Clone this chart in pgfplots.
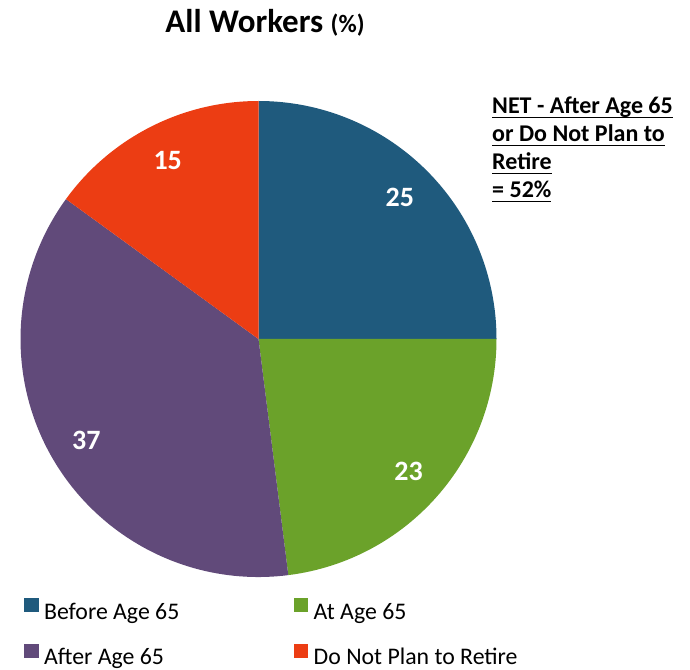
\documentclass[border=0pt]{standalone}
\usepackage{pgfplots}
\usepackage{pgfplotstable}
\pgfplotsset{compat=1.18}
\usepackage{fontspec}
\setmainfont{Carlito}
\definecolor{cBefore}{HTML}{1F5A7D}
\definecolor{cAt}{HTML}{6BA22A}
\definecolor{cAfter}{HTML}{614A7A}
\definecolor{cNot}{HTML}{EC3D13}
\newcommand\ul[1]{\setbox0\hbox{#1}\rlap{\rule[-4pt]{\wd0}{1.4pt}}\box0}

\pgfplotstableread[col sep=comma]{
label,value,color
Before Age 65,25,cBefore
At Age 65,23,cAt
After Age 65,37,cAfter
Do Not Plan to Retire,15,cNot
}\piedata

\begin{document}
\begin{tikzpicture}
\begin{axis}[
  x=1pt, y=1pt, xmin=0, xmax=690, ymin=-666, ymax=0,
  hide axis, clip=false,
  legend columns=2,
  legend cell align=left,
  legend style={
    at={(axis cs:24,-634)}, anchor=west,
    draw=none, fill=none, inner sep=0pt,
    font=\fontsize{23.8}{28}\selectfont,
    nodes={inner sep=0pt, text height=17pt, text depth=5pt},
    row sep=20pt,
    /tikz/every odd column/.append style={column sep=6pt},
    /tikz/every even column/.append style={column sep=114.5pt},
  },
]
\path (axis cs:0,0) rectangle (axis cs:690,-666);
\pgfplotstablegetrowsof{\piedata}
\pgfmathtruncatemacro\nrows{\pgfplotsretval-1}
\def\cum{0}
\pgfplotsforeachungrouped \i in {0,...,\nrows}{%
  \pgfplotstablegetelem{\i}{value}\of\piedata \let\v\pgfplotsretval
  \pgfplotstablegetelem{\i}{color}\of\piedata \let\c\pgfplotsretval
  \pgfmathsetmacro\sa{90-3.6*\cum}%
  \pgfmathsetmacro\ea{90-3.6*(\cum+\v)}%
  \pgfmathsetmacro\ma{(\sa+\ea)/2}%
  \pgfmathsetmacro\lx{258.5+200*cos(\ma)}%
  \pgfmathsetmacro\ly{-339+200*sin(\ma)}%
  \edef\cmd{%
    \noexpand\fill[\c] (axis cs:258.5,-339) -- ([shift={(\sa:238pt)}]axis cs:258.5,-339) arc[start angle=\sa, end angle=\ea, radius=238pt] -- cycle;
    \noexpand\node[text=white, font=\noexpand\bfseries\noexpand\fontsize{28}{32}\noexpand\selectfont] at (axis cs:\lx,\ly) {\v};
  }%
  \cmd
  \pgfmathsetmacro\cum{\cum+\v}%
}
\addlegendimage{legend image code/.code={\fill[cBefore] (0pt,1.5pt) rectangle (13.5pt,14.5pt);}}
\addlegendentry{Before Age 65}
\addlegendimage{legend image code/.code={\fill[cAt] (0pt,1.5pt) rectangle (13.5pt,14.5pt);}}
\addlegendentry{At Age 65}
\addlegendimage{legend image code/.code={\fill[cAfter] (0pt,1.5pt) rectangle (13.5pt,14.5pt);}}
\addlegendentry{After Age 65}
\addlegendimage{legend image code/.code={\fill[cNot] (0pt,1.5pt) rectangle (13.5pt,14.5pt);}}
\addlegendentry{Do Not Plan to Retire}

\node[font=\bfseries\fontsize{33}{38}\selectfont, anchor=base] at (axis cs:265,-33) {All Workers {\fontsize{25}{30}\selectfont(\%)}};
\node[font=\bfseries\fontsize{24}{28}\selectfont, anchor=base west, inner sep=0pt] at (axis cs:492,-114) {\ul{NET - After Age 65}};
\node[font=\bfseries\fontsize{24}{28}\selectfont, anchor=base west, inner sep=0pt] at (axis cs:492,-142) {\ul{or Do Not Plan to}};
\node[font=\bfseries\fontsize{24}{28}\selectfont, anchor=base west, inner sep=0pt] at (axis cs:492,-170) {\ul{Retire}};
\node[font=\bfseries\fontsize{24}{28}\selectfont, anchor=base west, inner sep=0pt] at (axis cs:492,-198) {\ul{= 52\%}};
\end{axis}
\end{tikzpicture}
\end{document}
